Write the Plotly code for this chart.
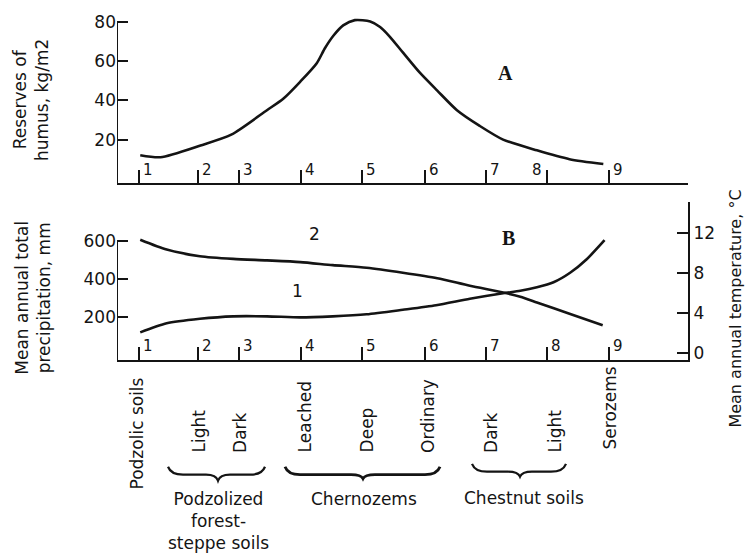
import plotly.graph_objects as go

# ---------------- data ----------------
stations = ["1", "2", "3", "4", "5", "6", "7", "8", "9"]
station_pos = [1.0, 1.96, 2.63, 3.64, 4.63, 5.65, 6.64, 7.63, 8.64]

soil_names = ["Podzolic soils", "Light", "Dark", "Leached", "Deep", "Ordinary",
              "Dark", "Light", "Serozems"]
groups = ["Podzolized<br>forest-<br>steppe soils", "Chernozems", "Chestnut soils"]

# A: reserves of humus, kg/m2
humus_x = [1.02, 1.35, 2.0, 2.5, 3.08, 3.35, 3.62, 3.89, 4.02, 4.16, 4.32, 4.51,
           4.76, 4.92, 5.08, 5.29, 5.57, 5.85, 6.17, 6.54, 6.92, 7.47, 8.0, 8.55]
humus_y = [12, 11, 17, 22.5, 35, 41, 49.5, 59, 66.5, 73, 78.3, 81,
           80.3, 77.5, 72.5, 64.5, 54, 45, 35, 27, 20, 14.5, 10, 7.5]

# B, curve 2: mean annual total precipitation, mm (left axis)
precip_x = [1.02, 1.45, 1.99, 2.53, 3.08, 3.62, 4.15, 4.70, 5.29, 5.85, 6.38,
            6.92, 7.2, 7.47, 8.0, 8.54]
precip_y = [609, 557, 522, 508, 500, 491, 475, 461, 435, 406, 366,
            331, 308, 278, 218, 157]

# B, curve 1: mean annual temperature, deg C (right axis)
temp_x = [1.02, 1.45, 1.99, 2.53, 3.08, 3.62, 4.15, 4.70, 5.29, 5.83, 6.38,
          6.92, 7.2, 7.47, 7.74, 8.01, 8.28, 8.57]
temp_y = [2.1, 3.0, 3.45, 3.7, 3.7, 3.6, 3.7, 3.9, 4.35, 4.8, 5.45,
          6.0, 6.25, 6.6, 7.1, 8.05, 9.4, 11.3]

humus_ticks = [20, 40, 60, 80]
precip_ticks = [200, 400, 600]
temp_ticks = [0, 4, 8, 12]

# ---------------- layout geometry ----------------
W, H = 748, 556
ML, MR, MT, MB = 117, 60, 12, 196
PW, PH = W - ML - MR, H - MT - MB
XR = [0.642, 9.927]
YR_TOP = [-2.2, 83.1]
YR_P = [-26.1, 809.4]
YR_T = [-0.66, 15.13]

INK = "#141414"
FONT = "DejaVu Sans"


def px(xp):
    return (xp - ML) / PW


def py(yp):
    return (MT + PH - yp) / PH


fig = go.Figure()
line_style = dict(color=INK, width=2.6, shape="spline", smoothing=0.7)
fig.add_trace(go.Scatter(x=humus_x, y=humus_y, xaxis="x", yaxis="y",
                         mode="lines", line=line_style, hoverinfo="skip"))
fig.add_trace(go.Scatter(x=precip_x, y=precip_y, xaxis="x2", yaxis="y2",
                         mode="lines", line=line_style, hoverinfo="skip"))
fig.add_trace(go.Scatter(x=temp_x, y=temp_y, xaxis="x2", yaxis="y3",
                         mode="lines", line=line_style, hoverinfo="skip"))

xcommon = dict(range=XR, showline=True, linewidth=2, linecolor=INK,
               ticks="inside", tickvals=station_pos, ticklen=13, tickwidth=2,
               tickcolor=INK, showticklabels=False, showgrid=False,
               zeroline=False, fixedrange=True)
ycommon = dict(ticks="inside", ticklen=11, tickwidth=2, tickcolor=INK,
               showline=False, showgrid=False, zeroline=False,
               tickfont=dict(family=FONT, size=17, color=INK), fixedrange=True)

fig.update_layout(
    width=W, height=H,
    margin=dict(l=ML, r=MR, t=MT, b=MB),
    paper_bgcolor="white", plot_bgcolor="white",
    showlegend=False,
    xaxis=dict(xcommon, domain=[0, 1], anchor="y"),
    xaxis2=dict(xcommon, domain=[0, 1], anchor="y2"),
    yaxis=dict(ycommon, domain=[py(181), 1], anchor="x", range=YR_TOP,
               tickvals=humus_ticks),
    yaxis2=dict(ycommon, domain=[0, py(200)], anchor="x2", range=YR_P,
                tickvals=precip_ticks),
    yaxis3=dict(ycommon, overlaying="y2", side="right", anchor="x2",
                range=YR_T, tickvals=temp_ticks, showline=True, linewidth=2,
                linecolor=INK),
)

shapes = [
    dict(type="line", xref="x", yref="y", x0=XR[0], x1=XR[0],
         y0=YR_TOP[0], y1=humus_ticks[-1], line=dict(color=INK, width=2)),
    dict(type="line", xref="x2", yref="y2", x0=XR[0], x1=XR[0],
         y0=YR_P[0], y1=precip_ticks[-1], line=dict(color=INK, width=2)),
]


def brace(x0, x1, xm, y0, y2):
    y1 = y0 + 8
    pts = [
        ("M", [(x0, y0)]),
        ("Q", [(x0 + 3, y1), (x0 + 15, y1)]),
        ("L", [(xm - 12, y1)]),
        ("Q", [(xm - 2, y1), (xm, y2)]),
        ("Q", [(xm + 2, y1), (xm + 12, y1)]),
        ("L", [(x1 - 15, y1)]),
        ("Q", [(x1 - 3, y1), (x1, y0)]),
    ]
    s = ""
    for cmd, ps in pts:
        s += cmd + " " + " ".join(f"{px(a):.5f},{py(b):.5f}" for a, b in ps) + " "
    return s.strip()


for (x0, x1, xm, y0, y2, w) in [(168, 265, 218, 468, 482, 2.2),
                                (285, 440, 363, 468, 480, 2.8),
                                (472, 566, 520, 465, 478, 2.2)]:
    shapes.append(dict(type="path", xref="paper", yref="paper",
                       path=brace(x0, x1, xm, y0, y2),
                       line=dict(color=INK, width=w)))

fig.update_layout(shapes=shapes)

ann = []
tfont = dict(family=FONT, size=17, color=INK)

# station numbers next to ticks
for i, (s, p) in enumerate(zip(stations, station_pos)):
    left = (s == "8")
    ann.append(dict(text=s, x=p, y=YR_TOP[0], xref="x", yref="y",
                    xanchor="right" if left else "left", yanchor="bottom",
                    xshift=-3 if left else 2, yshift=2, showarrow=False,
                    font=dict(family=FONT, size=15, color=INK)))
    ann.append(dict(text=s, x=p, y=YR_P[0], xref="x2", yref="y2",
                    xanchor="left", yanchor="bottom", xshift=2, yshift=3,
                    showarrow=False, font=dict(family=FONT, size=15, color=INK)))

# soil names (rotated)
LABEL_X_PX = [137, 199, 240, 305, 367, 428, 491, 555, 610]
LABEL_BOTTOM_PX = [493, 456, 456, 456, 456, 456, 456, 456, 453]
for name, xp, yb in zip(soil_names, LABEL_X_PX, LABEL_BOTTOM_PX):
    ann.append(dict(text=name, x=px(xp), y=py(yb), xref="paper", yref="paper",
                    xanchor="center", yanchor="bottom", textangle=-90,
                    showarrow=False, font=tfont))

# group names
for g, xp, yt in zip(groups, [218, 364, 524], [488, 488, 487]):
    ann.append(dict(text=g, x=px(xp), y=py(yt), xref="paper", yref="paper",
                    xanchor="center", yanchor="top", align="center",
                    showarrow=False, font=tfont))

# axis titles
ann.append(dict(text="Reserves of<br>humus, kg/m2", x=px(31), y=py(97),
                xref="paper", yref="paper", textangle=-90, showarrow=False,
                xanchor="center", yanchor="middle", font=tfont))
ann.append(dict(text="Mean annual total<br>precipitation, mm", x=px(33), y=py(297),
                xref="paper", yref="paper", textangle=-90, showarrow=False,
                xanchor="center", yanchor="middle", font=tfont))
ann.append(dict(text="Mean annual temperature, °C", x=px(736), y=py(308),
                xref="paper", yref="paper", textangle=-90, showarrow=False,
                xanchor="center", yanchor="middle",
                font=dict(family=FONT, size=16, color=INK)))

# panel letters and curve numbers
ann.append(dict(text="<b>A</b>", x=px(515), y=py(57), xref="paper", yref="paper",
                showarrow=False, font=dict(family="Liberation Serif", size=20, color=INK)))
ann.append(dict(text="<b>B</b>", x=px(517), y=py(237), xref="paper", yref="paper",
                showarrow=False, font=dict(family="Liberation Serif", size=20, color=INK)))
ann.append(dict(text="2", x=px(307), y=py(245), xref="paper", yref="paper",
                showarrow=False, font=tfont))
ann.append(dict(text="1", x=px(290), y=py(302), xref="paper", yref="paper",
                showarrow=False, font=tfont))

fig.update_layout(annotations=ann)

fig.write_html("out.html", include_plotlyjs=True, config={"displayModeBar": False})
